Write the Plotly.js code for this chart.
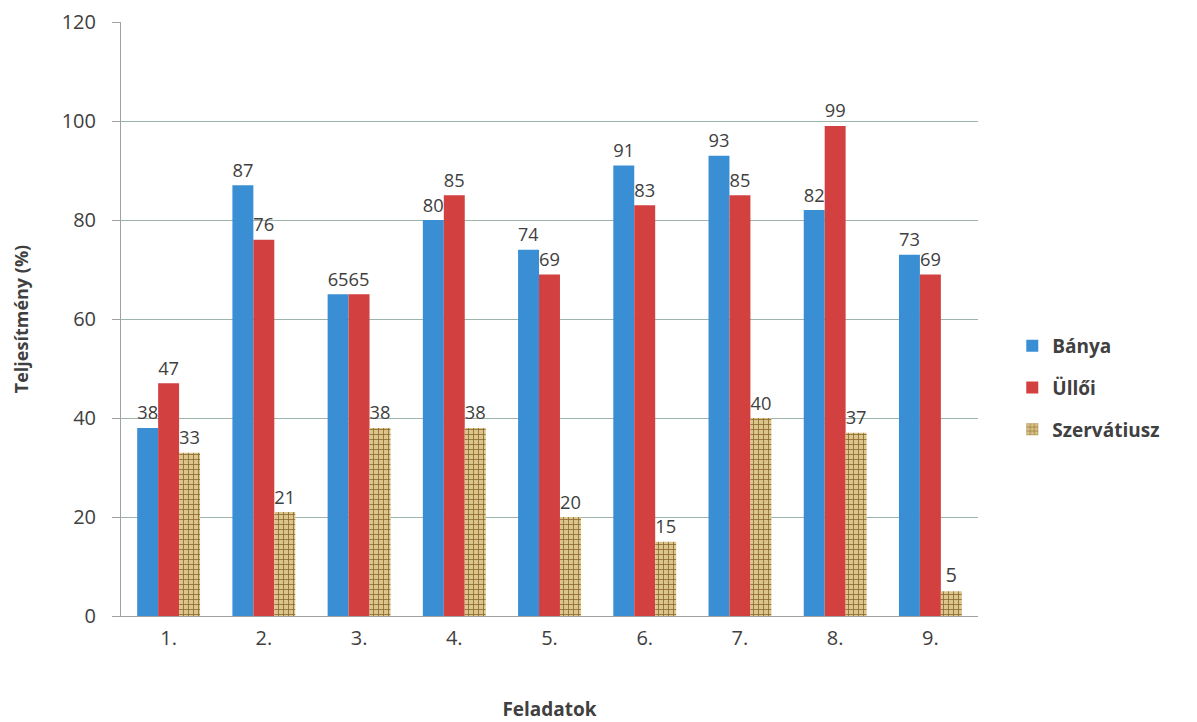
<!DOCTYPE html>
<html><head><meta charset="utf-8">
<script src="https://cdn.plot.ly/plotly-3.0.1.min.js"></script>
<style>body{margin:0;background:#fff}#c{width:1197px;height:722px}</style>
</head><body><div id="c"></div>
<script>
const categories = ["1.","2.","3.","4.","5.","6.","7.","8.","9."];
const banya = [38,87,65,80,74,91,93,82,73];
const ulloi = [47,76,65,85,69,83,85,99,69];
const szervatiusz = [33,21,38,38,20,15,40,37,5];
const yTicks = [0,20,40,60,80,100,120];

const FF = "Open Sans, Noto Sans, sans-serif";
const txtFont = {family:FF, size:20, color:"#404040"};
function tr(name, vals, color, pattern){
  const m = {color:color, line:{width:0}};
  if(pattern) m.pattern = pattern;
  return {type:"bar", name:name, legendgroup:name, x:categories, y:vals, marker:m,
    text:vals.map(String), textposition:"outside", textfont:txtFont, cliponaxis:false};
}
const data = [
  tr("Bánya", banya, "#3a8fd4"),
  tr("Üllői", ulloi, "#d2403f"),
  tr("Szervátiusz", szervatiusz, "#dcc58a", {shape:"+", fgcolor:"#8a6a30", bgcolor:"#dcc58a", size:5, solidity:0.3})
];
const layout = {
  width:1197, height:722,
  margin:{l:121, r:219, t:22, b:106},
  paper_bgcolor:"#fff", plot_bgcolor:"#fff",
  barmode:"group", bargap:0.34, bargroupgap:0,
  font:{family:FF, color:"#404040"},
  xaxis:{type:"category", tickfont:{size:20,color:"#404040"}, showline:true, linecolor:"#a0a0a0", ticks:"",
    ticklabelstandoff:4,
    title:{text:"Feladatok", font:{size:19, color:"#404040", weight:"bold"}, standoff:56}},
  yaxis:{range:[0,120], tickvals:yTicks, ticktext:yTicks.map(String), tickfont:{size:20,color:"#404040"},
    showgrid:true, gridcolor:"#9db5a8", gridwidth:1, zeroline:false, showline:true, linecolor:"#a0a0a0",
    ticks:"outside", ticklen:8, tickcolor:"#a0a0a0", ticklabelstandoff:12,
    title:{text:"Teljesítmény (%)", font:{size:18, color:"#404040", weight:"bold"}, standoff:28}},
  legend:{x:1.04, y:0.384, yanchor:"middle", xanchor:"left", font:{size:19, color:"#404040", weight:"bold"},
    itemwidth:20, tracegroupgap:14},
  showlegend:true
};
Plotly.newPlot("c", data, layout, {displayModeBar:false});
</script></body></html>
